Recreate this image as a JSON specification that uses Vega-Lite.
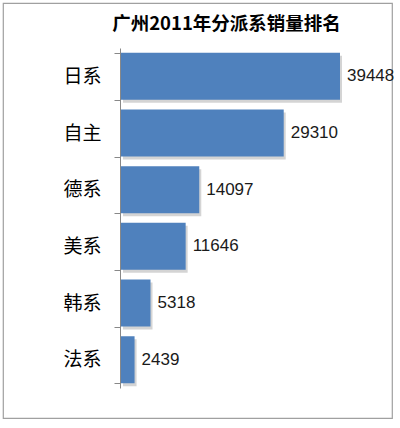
{
  "$schema": "https://vega.github.io/schema/vega-lite/v6.json",
  "width": 389,
  "height": 415,
  "autosize": "none",
  "padding": {"left": 3, "top": 3, "right": 8, "bottom": 10},
  "background": "white",
  "title": {
    "text": "广州2011年分派系销量排名",
    "font": "Noto Sans CJK SC",
    "fontSize": 18.5,
    "fontWeight": "bold",
    "color": "black",
    "anchor": "middle",
    "dx": 29,
    "offset": -39
  },
  "data": {
    "values": [
      {"brand": "日系", "sales": 39448},
      {"brand": "自主", "sales": 29310},
      {"brand": "德系", "sales": 14097},
      {"brand": "美系", "sales": 11646},
      {"brand": "韩系", "sales": 5318},
      {"brand": "法系", "sales": 2439}
    ]
  },
  "encoding": {
    "y": {
      "field": "brand",
      "type": "nominal",
      "sort": null,
      "scale": {"range": [45, 385], "paddingInner": 0.17, "paddingOuter": 0.085},
      "axis": {
        "title": null,
        "offset": -117,
        "labelFont": "Noto Sans CJK SC",
        "labelFontSize": 19,
        "labelColor": "black",
        "labelPadding": 13,
        "tickBand": "extent",
        "tickSize": 6,
        "tickColor": "#888888",
        "domainColor": "#888888",
        "grid": false
      }
    },
    "x": {
      "field": "sales",
      "type": "quantitative",
      "scale": {"domain": [0, 39448], "range": [118, 337], "nice": false},
      "axis": null
    }
  },
  "layer": [
    {
      "mark": {"type": "bar", "color": "#b8b8b8", "opacity": 0.6, "xOffset": 2, "yOffset": 3}
    },
    {
      "mark": {"type": "bar", "color": "#4f81bd"}
    },
    {
      "mark": {"type": "text", "align": "left", "dx": 7, "font": "Liberation Sans", "fontSize": 17, "color": "#1a1a1a"},
      "encoding": {"text": {"field": "sales", "type": "quantitative", "format": "d"}}
    }
  ],
  "config": {
    "view": {"stroke": "#a0a0a0", "strokeWidth": 1.2}
  }
}
